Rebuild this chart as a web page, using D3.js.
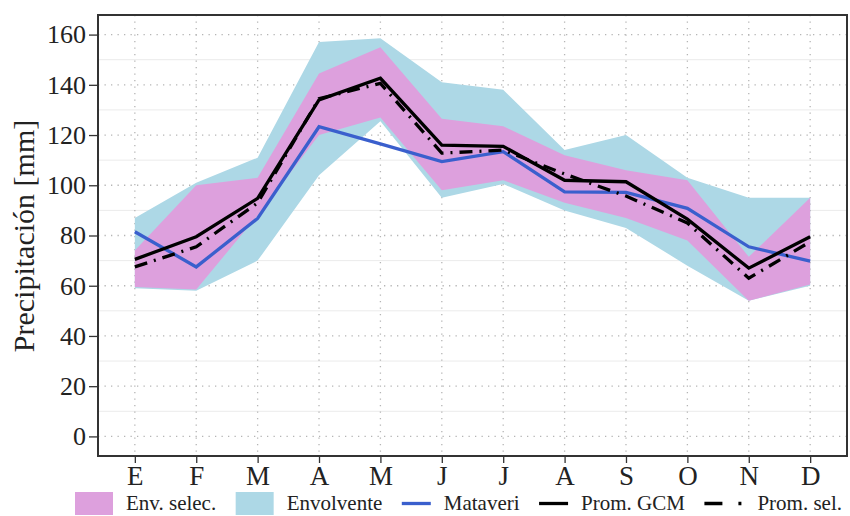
<!DOCTYPE html>
<html>
<head>
<meta charset="utf-8">
<script src="https://cdn.jsdelivr.net/npm/d3@7"></script>
<style>
  html, body { margin: 0; padding: 0; background: #fff; }
  svg { display: block; }
  text { font-family: "Liberation Serif", "Times New Roman", serif; fill: #222; }
</style>
</head>
<body>
<svg id="chart" width="850" height="516"></svg>
<script>
// ---- data ----
const months = ["E","F","M","A","M","J","J","A","S","O","N","D"];
const envUpper = [87, 101, 111, 157, 158.5, 141, 138, 114, 120, 103, 95, 95];
const envLower = [59, 58, 70, 104, 125.5, 95, 100.5, 90, 83, 68, 54, 60];
const selUpper = [74, 100, 103, 144.5, 155, 126.5, 123.5, 112, 106, 102, 71.5, 95];
const selLower = [59.5, 58.5, 88, 120, 127, 98, 102, 93, 87, 78, 54, 60.5];
const mataveri = [81.5, 67.5, 86.8, 123.3, 116.5, 109.4, 113.4, 97.4, 97.2, 90.8, 75.5, 69.8];
const promGCM  = [70.5, 79.5, 94.8, 134, 142.6, 116, 115.5, 102, 101.4, 86.5, 67, 79.5];
const promSel  = [67.5, 75.5, 93, 134.5, 140.6, 112.8, 114, 104.5, 95.7, 85, 63, 77.5];
const yTicks = [0, 20, 40, 60, 80, 100, 120, 140, 160];
const yMinor = [10, 30, 50, 70, 90, 110, 130, 150];
const legendLabels = ["Env. selec.", "Envolvente", "Mataveri", "Prom. GCM", "Prom. sel."];

// ---- layout ----
const panel = {left: 98, right: 847, top: 15, bottom: 456};
const svg = d3.select("#chart");
const idx = d3.range(months.length);

const x = d3.scalePoint().domain(idx).range([panel.left, panel.right]).padding(0.6);
const y = d3.scaleLinear().domain([-7.8, 167.8]).range([panel.bottom, panel.top]);

const colCyan = "#ADD8E6", colPink = "#DDA0DD", colBlue = "#3A5FCD";

// grid
const grid = svg.append("g");
grid.selectAll(".minor").data(yMinor).enter().append("line")
  .attr("x1", panel.left).attr("x2", panel.right)
  .attr("y1", d => y(d)).attr("y2", d => y(d))
  .attr("stroke", "#ebebeb").attr("stroke-width", 1);
grid.selectAll(".majorh").data(yTicks).enter().append("line")
  .attr("x1", panel.left).attr("x2", panel.right)
  .attr("y1", d => y(d)).attr("y2", d => y(d))
  .attr("stroke", "#b5b5b5").attr("stroke-width", 1.3).attr("stroke-dasharray", "1.3,5.2");
grid.selectAll(".majorv").data(idx).enter().append("line")
  .attr("y1", panel.top).attr("y2", panel.bottom)
  .attr("x1", d => x(d)).attr("x2", d => x(d))
  .attr("stroke", "#b5b5b5").attr("stroke-width", 1.3).attr("stroke-dasharray", "1.3,5.2");

// ribbons
const areaEnv = d3.area().x(d => x(d)).y0(d => y(envLower[d])).y1(d => y(envUpper[d]));
const areaSel = d3.area().x(d => x(d)).y0(d => y(selLower[d])).y1(d => y(selUpper[d]));
svg.append("path").datum(idx).attr("d", areaEnv).attr("fill", colCyan);
svg.append("path").datum(idx).attr("d", areaSel).attr("fill", colPink);

// lines
const lineOf = arr => d3.line().x(d => x(d)).y(d => y(arr[d]));
svg.append("path").datum(idx).attr("d", lineOf(mataveri))
  .attr("fill", "none").attr("stroke", colBlue).attr("stroke-width", 3.3);
svg.append("path").datum(idx).attr("d", lineOf(promGCM))
  .attr("fill", "none").attr("stroke", "#000").attr("stroke-width", 3.3);
svg.append("path").datum(idx).attr("d", lineOf(promSel))
  .attr("fill", "none").attr("stroke", "#000").attr("stroke-width", 3.3)
  .attr("stroke-dasharray", "13,7,2,7");

// panel border
svg.append("rect").attr("x", panel.left).attr("y", panel.top)
  .attr("width", panel.right - panel.left).attr("height", panel.bottom - panel.top)
  .attr("fill", "none").attr("stroke", "#333").attr("stroke-width", 2);

// axes
const yAxis = svg.append("g").attr("transform", `translate(${panel.left},0)`)
  .call(d3.axisLeft(y).tickValues(yTicks).tickSize(9).tickPadding(3));
yAxis.select(".domain").remove();
yAxis.selectAll(".tick line").attr("stroke", "#333").attr("stroke-width", 1.3);
yAxis.selectAll(".tick text").style("font-family", "Liberation Serif").style("font-size", "26px").attr("fill", "#222");

const xAxis = svg.append("g").attr("transform", `translate(0,${panel.bottom})`)
  .call(d3.axisBottom(x).tickFormat(d => months[d]).tickSize(7).tickPadding(3));
xAxis.select(".domain").remove();
xAxis.selectAll(".tick line").attr("stroke", "#333").attr("stroke-width", 1.3);
xAxis.selectAll(".tick text").style("font-family", "Liberation Serif").style("font-size", "27px").attr("fill", "#222");

// y title
svg.append("text").attr("transform", "translate(33.5,236) rotate(-90)")
  .attr("text-anchor", "middle").style("font-size", "30px").text("Precipitación [mm]");

// legend: keys and labels laid out sequentially
const lg = svg.append("g");
const ly = 503.5;
const keyW = [38, 38, 29, 29, 40];
const keyGap = 13;
const startX = 75, endX = 842;
const texts = legendLabels.map(t => lg.append("text").attr("y", 510).style("font-size", "21px").text(t));
const tw = texts.map(t => t.node().getComputedTextLength());
const used = d3.sum(keyW) + keyGap * keyW.length + d3.sum(tw);
const itemGap = (endX - startX - used) / (keyW.length - 1);
let cx = startX;
legendLabels.forEach((lab, i) => {
  const k0 = cx, k1 = cx + keyW[i];
  if (i === 0 || i === 1) {
    lg.append("rect").attr("x", k0).attr("y", 492).attr("width", keyW[i]).attr("height", 23)
      .attr("fill", i === 0 ? colPink : colCyan);
  } else {
    const ln = lg.append("line").attr("x1", k0).attr("x2", k1).attr("y1", ly).attr("y2", ly)
      .attr("stroke", i === 2 ? colBlue : "#000").attr("stroke-width", 3.3);
    if (i === 4) ln.attr("stroke-dasharray", "18,16,3,20");
  }
  texts[i].attr("x", k1 + keyGap);
  cx = k1 + keyGap + tw[i] + itemGap;
});
</script>
</body>
</html>
